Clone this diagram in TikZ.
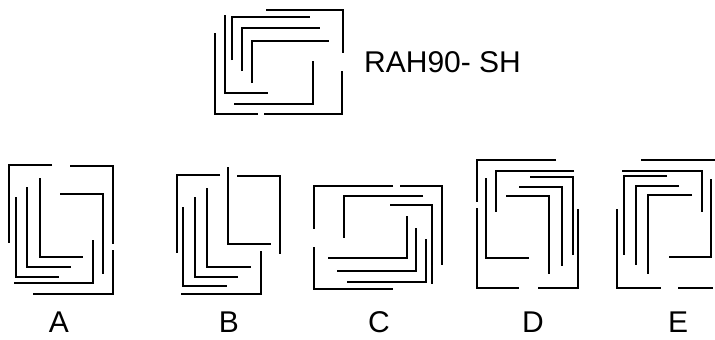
\documentclass[tikz,border=0pt]{standalone}
\usepackage{fontspec}
\setmainfont{Liberation Sans}
\begin{document}
\begin{tikzpicture}[x=1pt,y=-1pt,
  ln/.style={line width=2.7pt,black},
  lbl/.style={font=\fontsize{30}{30}\selectfont,inner sep=0pt}]
\useasboundingbox[fill=white] (0,0) rectangle (715,340);
% Top figure
\draw[ln] (266,10) -- (343,10) -- (343,53);
\draw[ln] (264,114) -- (342,114) -- (342,71);
\draw[ln] (215,33) -- (215,114) -- (258,114);
\draw[ln] (225,15) -- (225,93) -- (268,93);
\draw[ln] (232,60) -- (232,17) -- (310,17);
\draw[ln] (242,71) -- (242,28) -- (320,28);
\draw[ln] (252,83) -- (252,41) -- (329,41);
\draw[ln] (234,104) -- (313,104) -- (313,61);
\node[lbl,anchor=base west] (title) at (364,72) {RAH90- SH};
% A
\draw[ln] (52,165) -- (9,165) -- (9,243);
\draw[ln] (70,166) -- (113,166) -- (113,244);
\draw[ln] (60,194) -- (103,194) -- (103,274);
\draw[ln] (40,178) -- (40,257) -- (83,257);
\draw[ln] (27,187) -- (27,267) -- (71,267);
\draw[ln] (16,197) -- (16,277) -- (59,277);
\draw[ln] (14,283) -- (93,283) -- (93,240);
\draw[ln] (33,294) -- (113,294) -- (113,250);
% B
\draw[ln] (220,175) -- (177,175) -- (177,253);
\draw[ln] (228,167) -- (228,244) -- (271,244);
\draw[ln] (237,176) -- (280,176) -- (280,254);
\draw[ln] (207,188) -- (207,267) -- (251,267);
\draw[ln] (195,197) -- (195,277) -- (238,277);
\draw[ln] (183,207) -- (183,286) -- (227,286);
\draw[ln] (181,294) -- (261,294) -- (261,251);
% C
\draw[ln] (393,186) -- (314,186) -- (314,229);
\draw[ln] (400,186) -- (442,186) -- (442,265);
\draw[ln] (423,196) -- (344,196) -- (344,238);
\draw[ln] (390,205) -- (432,205) -- (432,284);
\draw[ln] (328,258) -- (407,258) -- (407,216);
\draw[ln] (337,271) -- (416,271) -- (416,228);
\draw[ln] (347,282) -- (426,282) -- (426,239);
\draw[ln] (314,247) -- (314,289) -- (393,289);
% D
\draw[ln] (556,160) -- (477,160) -- (477,202);
\draw[ln] (574,171) -- (496,171) -- (496,212);
\draw[ln] (530,177) -- (573,177) -- (573,255);
\draw[ln] (519,187) -- (562,187) -- (562,266);
\draw[ln] (506,196) -- (549,196) -- (549,274);
\draw[ln] (486,178) -- (486,258) -- (529,258);
\draw[ln] (477,208) -- (477,288) -- (519,288);
\draw[ln] (538,288) -- (578,288) -- (578,209);
% E
\draw[ln] (641,160) -- (715,160);
\draw[ln] (622,171) -- (702,171) -- (702,212);
\draw[ln] (667,176) -- (624,176) -- (624,255);
\draw[ln] (679,186) -- (636,186) -- (636,265);
\draw[ln] (692,195) -- (648,195) -- (648,274);
\draw[ln] (669,257) -- (711,257) -- (711,179);
\draw[ln] (617,209) -- (617,288) -- (661,288);
\draw[ln] (678,288) -- (713,288);
% Labels
\node[lbl,anchor=base] (la) at (59,332) {A};
\node[lbl,anchor=base] (lb) at (229,332) {B};
\node[lbl,anchor=base] (lc) at (379,332) {C};
\node[lbl,anchor=base] (ld) at (533,332) {D};
\node[lbl,anchor=base] (le) at (678,332) {E};
\end{tikzpicture}
\end{document}
